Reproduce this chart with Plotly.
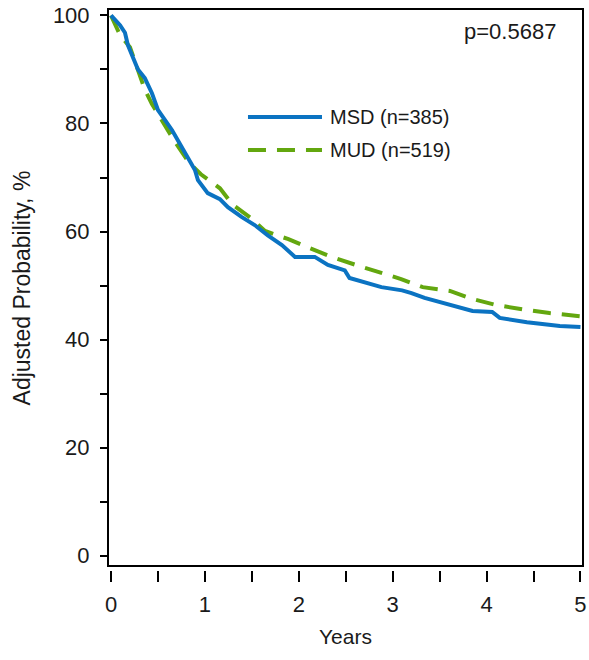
import plotly.graph_objects as go

years_msd = [0, 0.096, 0.149, 0.18, 0.287, 0.36, 0.436, 0.5, 0.649, 0.787, 0.894, 0.926, 1.03, 1.16,
             1.245, 1.39, 1.53, 1.67, 1.82, 1.96, 2.17, 2.31, 2.49, 2.54, 2.70, 2.88, 3.10, 3.20, 3.34,
             3.52, 3.64, 3.85, 4.06, 4.14, 4.43, 4.78, 5.0]
prob_msd = [100, 98.2, 96.8, 94.5, 90.0, 88.4, 85.6, 82.5, 78.8, 74.5, 71.4, 69.5, 67.1, 66.0,
            64.5, 62.7, 61.2, 59.3, 57.5, 55.3, 55.3, 53.8, 52.8, 51.4, 50.6, 49.7, 49.1, 48.6, 47.7,
            46.9, 46.2, 45.3, 45.1, 44.0, 43.2, 42.5, 42.3]

years_mud = [0, 0.096, 0.202, 0.255, 0.309, 0.362, 0.436, 0.553, 0.681, 0.83, 0.957, 1.16, 1.30,
             1.49, 1.64, 1.80, 1.89, 2.12, 2.35, 2.61, 2.84, 3.09, 3.32, 3.61, 3.85, 4.10, 4.38, 4.67, 5.0]
prob_mud = [100, 96.4, 94.1, 91.4, 88.6, 86.2, 83.6, 80.3, 76.6, 72.8, 70.6, 68.0, 64.9,
            62.5, 60.1, 59.1, 58.6, 56.9, 55.3, 53.8, 52.5, 51.2, 49.7, 49.0, 47.5, 46.4, 45.6, 44.9, 44.3]

series_names = ["MSD (n=385)", "MUD (n=519)"]
x_tickvals = [0, 0.5, 1, 1.5, 2, 2.5, 3, 3.5, 4, 4.5, 5]
x_ticktext = ["0", "", "1", "", "2", "", "3", "", "4", "", "5"]
y_tickvals = [0, 10, 20, 30, 40, 50, 60, 70, 80, 90, 100]
y_ticktext = ["0", "", "20", "", "40", "", "60", "", "80", "", "100"]
p_text = "p=0.5687"
y_title = "Adjusted Probability, %"
x_title = "Years"

BLUE = "#0B73C2"
GREEN = "#63A70F"
FONT = "Arial, Liberation Sans, sans-serif"
TXT = "#1a1a1a"
YDOM0 = 0.0071

fig = go.Figure()
fig.add_trace(go.Scatter(x=years_mud, y=prob_mud, mode="lines", name=series_names[1],
                         line=dict(color=GREEN, width=4, dash="18px,11px"), showlegend=False))
fig.add_trace(go.Scatter(x=years_msd, y=prob_msd, mode="lines", name=series_names[0],
                         line=dict(color=BLUE, width=4), showlegend=False))

# frame
fig.add_shape(type="rect", xref="paper", yref="paper", x0=0, x1=1, y0=YDOM0, y1=1,
              line=dict(color="black", width=2), fillcolor="rgba(0,0,0,0)", layer="above")

# custom legend
leg_y = [0.806, 0.7469]
for i, (col, dash) in enumerate([(BLUE, "solid"), (GREEN, "18px,11px")]):
    fig.add_shape(type="line", xref="x domain", yref="y domain", x0=0.2947, x1=0.4505,
                  y0=leg_y[i], y1=leg_y[i], line=dict(color=col, width=4, dash=dash))
    fig.add_annotation(xref="x domain", yref="y domain", x=0.463, y=leg_y[i], text=series_names[i],
                       showarrow=False, xanchor="left", yanchor="middle",
                       font=dict(size=20, color=TXT, family=FONT))

fig.add_annotation(xref="x domain", yref="y domain", x=0.947, y=0.9605, text=p_text,
                   showarrow=False, xanchor="right", yanchor="middle",
                   font=dict(size=22, color=TXT, family=FONT))

# y-axis title
fig.add_annotation(xref="paper", yref="paper", x=-0.179, y=0.5036, text=y_title,
                   textangle=-90, showarrow=False, xanchor="center", yanchor="middle",
                   font=dict(size=23, color=TXT, family=FONT))

fig.update_layout(
    width=589, height=660,
    margin=dict(l=108, r=6, t=9, b=90),
    paper_bgcolor="white", plot_bgcolor="white",
    font=dict(family=FONT, size=21, color=TXT),
    xaxis=dict(range=[-0.032, 5.027], anchor="free", position=0, automargin=False,
               tickvals=x_tickvals, ticktext=x_ticktext, ticks="outside", ticklen=11,
               tickwidth=2, tickcolor="black", showgrid=False, zeroline=False, showline=False,
               ticklabelstandoff=4,
               title=dict(text=x_title, standoff=12, font=dict(size=21, color=TXT)),
               tickfont=dict(size=22, color=TXT)),
    yaxis=dict(range=[-1.94, 101.2], domain=[YDOM0, 1], anchor="x", automargin=False,
               tickvals=y_tickvals, ticktext=y_ticktext, ticks="outside", ticklen=7,
               tickwidth=2, tickcolor="black", showgrid=False, zeroline=False, showline=False,
               ticklabelstandoff=6,
               tickfont=dict(size=22, color=TXT)),
)

fig.write_html("out.html", config={"displayModeBar": False},
               post_script="document.body.style.margin='0';document.body.style.padding='0';"
                           "document.body.style.overflow='hidden';")
